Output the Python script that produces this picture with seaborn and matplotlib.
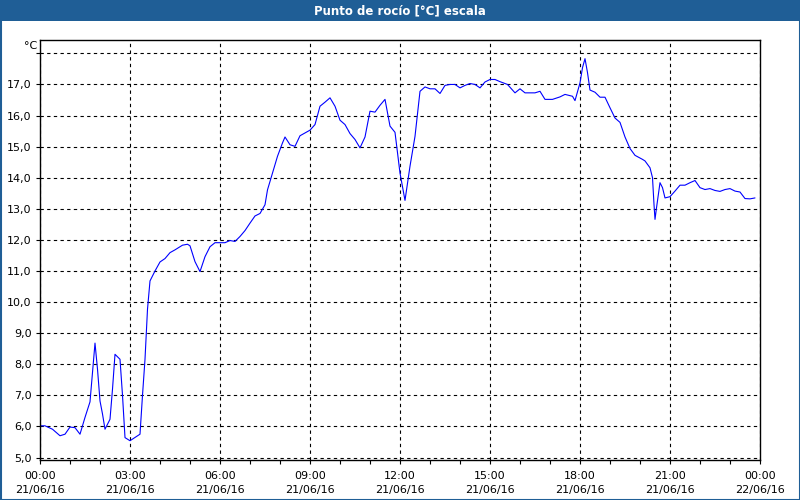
import matplotlib
matplotlib.use("Agg")
import matplotlib.pyplot as plt
from matplotlib.patches import Rectangle
import seaborn as sns
import pandas as pd

times = ["00:00","00:10","00:25","00:40","00:50","01:00","01:10","01:20","01:30","01:40",
         "01:45","01:50","01:55","02:00","02:05","02:10","02:20","02:25","02:30","02:40",
         "02:45","02:50","03:00","03:20","03:25","03:30","03:35","03:40","03:50","04:00",
         "04:10","04:20","04:30","04:45","04:55","05:00","05:10","05:20","05:30","05:40",
         "05:50","06:10","06:20","06:30","06:40","06:50","07:00","07:10","07:20","07:30",
         "07:35","07:45","07:55","08:05","08:10","08:20","08:30","08:40","08:50","09:00",
         "09:10","09:20","09:30","09:40","09:50","10:00","10:10","10:20","10:30","10:40",
         "10:50","11:00","11:10","11:20","11:30","11:40","11:50","12:00","12:10","12:20",
         "12:30","12:40","12:50","13:00","13:10","13:20","13:30","13:40","13:50","14:00",
         "14:10","14:20","14:30","14:40","14:50","15:00","15:10","15:20","15:35","15:50",
         "16:00","16:10","16:30","16:40","16:50","17:05","17:20","17:30","17:45","17:50",
         "18:00","18:05","18:10","18:15","18:20","18:30","18:40","18:50","19:00","19:10",
         "19:20","19:30","19:40","19:50","20:05","20:10","20:20","20:25","20:28","20:30",
         "20:33","20:40","20:45","20:50","21:00","21:10","21:20","21:30","21:40","21:50",
         "22:00","22:10","22:20","22:30","22:40","22:50","23:00","23:10","23:20","23:30",
         "23:40","23:50"]
dew_point = [6.02,6.02,5.91,5.70,5.75,5.98,5.96,5.75,6.29,6.79,
             7.73,8.68,7.84,6.82,6.40,5.91,6.23,7.20,8.32,8.16,
             7.00,5.64,5.54,5.75,7.00,8.16,9.77,10.68,11.00,11.29,
             11.40,11.59,11.68,11.83,11.86,11.81,11.30,10.98,11.46,11.78,
             11.91,11.91,11.98,11.95,12.11,12.30,12.54,12.77,12.85,13.13,
             13.61,14.15,14.69,15.12,15.31,15.06,15.01,15.35,15.44,15.53,
             15.71,16.30,16.43,16.57,16.30,15.85,15.71,15.42,15.23,14.96,
             15.31,16.14,16.11,16.33,16.52,15.66,15.46,14.15,13.27,14.37,
             15.33,16.78,16.92,16.86,16.86,16.71,16.97,17.00,17.00,16.89,
             16.97,17.03,17.00,16.89,17.08,17.16,17.16,17.09,17.00,16.73,
             16.86,16.73,16.73,16.78,16.52,16.52,16.60,16.68,16.62,16.48,
             17.05,17.54,17.83,17.38,16.82,16.75,16.59,16.59,16.25,15.92,
             15.78,15.31,14.94,14.72,14.59,14.54,14.32,14.00,13.14,12.66,
             13.03,13.84,13.68,13.35,13.39,13.57,13.76,13.76,13.84,13.91,
             13.68,13.62,13.65,13.59,13.56,13.62,13.65,13.57,13.54,13.33,
             13.32,13.35]

x_tick_labels = ["00:00\n21/06/16", "03:00\n21/06/16", "06:00\n21/06/16", "09:00\n21/06/16",
                 "12:00\n21/06/16", "15:00\n21/06/16", "18:00\n21/06/16", "21:00\n21/06/16",
                 "00:00\n22/06/16"]
y_tick_values = list(range(5, 19))
title = "Punto de rocío [°C] escala"
unit = "°C"

hours = [int(t[:2]) + int(t[3:]) / 60 for t in times]
df = pd.DataFrame({"hora": hours, "valor": dew_point})

sns.set_style("ticks")
plt.rcParams["font.family"] = ["DejaVu Sans"]

fig = plt.figure(figsize=(8, 5), dpi=100)
fig.patch.set_facecolor("white")
W, H = 800, 500
ax = fig.add_axes([40 / W, 1 - 460 / H, 720 / W, 420 / H])

sns.lineplot(data=df, x="hora", y="valor", ax=ax, color="#0000ff", linewidth=0.8)

ax.set_xlim(0, 24)
ax.set_ylim(4.92, 18.43)
ax.set_xticks([3 * i for i in range(9)])
ax.set_xticklabels(x_tick_labels, fontsize=8, linespacing=1.45)
ax.set_xticks(list(range(25)), minor=True)
ax.set_yticks(y_tick_values)
ax.set_yticklabels([f"{v},0" if v < 18 else "" for v in y_tick_values], fontsize=8)
ax.tick_params(axis="both", which="both", direction="out", length=3, width=0.8,
               color="black", labelcolor="black")
ax.tick_params(axis="x", which="major", pad=5)
ax.tick_params(axis="y", which="major", pad=3)
ax.set_xlabel("")
ax.set_ylabel("")
ax.grid(True, which="major", linestyle=(0, (3, 3)), color="black", linewidth=0.8)
for s in ax.spines.values():
    s.set_visible(True)
    s.set_color("black")
    s.set_linewidth(1.0)
ax.set_facecolor("white")

# title bar and window frame
fig.patches.append(Rectangle((0, 1 - 21 / H), 1, 21 / H, transform=fig.transFigure,
                             facecolor="#1f5e96", edgecolor="none", zorder=0))
fig.patches.append(Rectangle((0.5 / W, 0.5 / H), 1 - 1 / W, 1 - 1 / H, transform=fig.transFigure,
                             facecolor="none", edgecolor="#1f5e96", linewidth=1.5, zorder=0))
fig.text(0.5, 1 - 10.5 / H, title, ha="center", va="center", color="white",
         fontsize=8.5, fontweight="bold")
fig.text(37 / W, 1 - 46 / H, unit, ha="right", va="center", fontsize=8, color="black")

fig.savefig("out.png", dpi=100)
